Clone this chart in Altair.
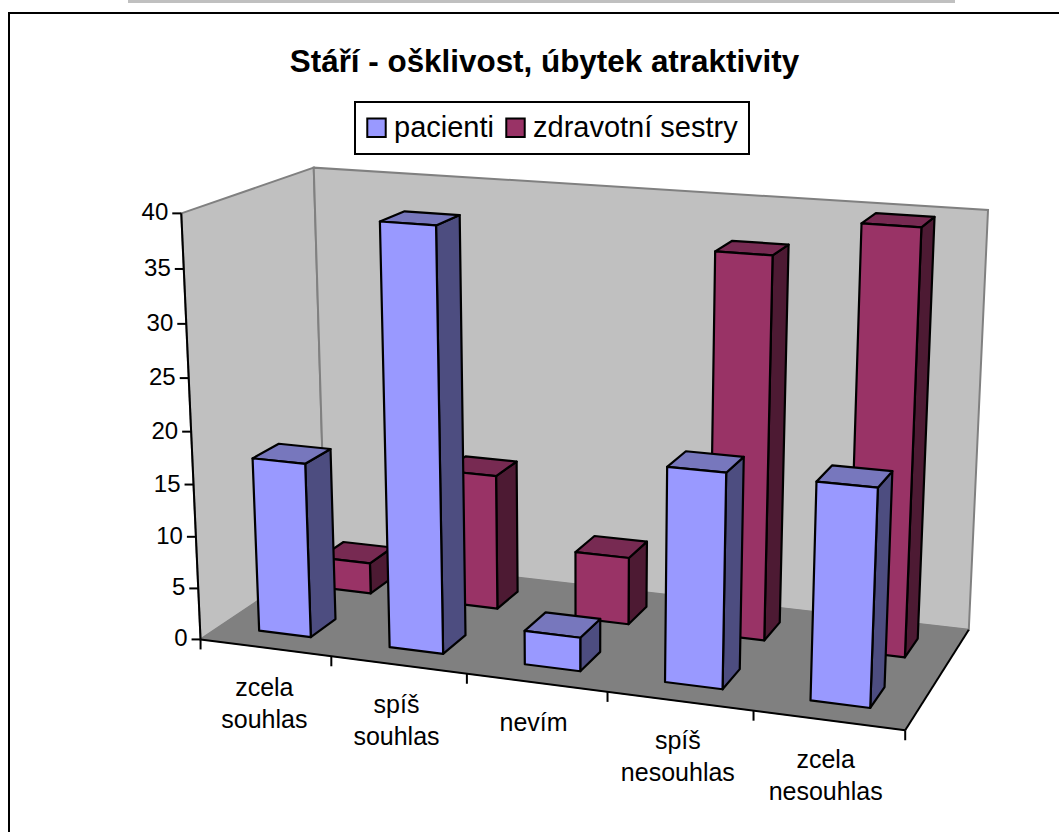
import numpy as np
import altair as alt

# Chart content
title_text = "Stáří - ošklivost, úbytek atraktivity"
categories = ["zcela\nsouhlas", "spíš\nsouhlas", "nevím", "spíš\nnesouhlas", "zcela\nnesouhlas"]
series = ["pacienti", "zdravotní sestry"]
pacienti = [16.8, 39.7, 3.2, 19.9, 19.9]
sestry = [3.1, 13.3, 6.6, 36.4, 39.8]
y_ticks = [0, 5, 10, 15, 20, 25, 30, 35, 40]

# Excel-style box: category position (0-5), depth (0-1), value (0-40)
box_anchors = [
    ((0, 0, 0), (201, 640)), ((5, 0, 0), (905, 730)),
    ((5, 1, 0), (969, 630)), ((0, 1, 0), (325, 555)),
    ((0, 0, 40), (181, 213)), ((0, 1, 40), (314, 168)),
    ((5, 1, 40), (988, 210)),
]


def fit_camera(anchors):
    rows, rhs = [], []
    for (a, b, c), (px, py) in anchors:
        rows.append([a, b, c, 1, 0, 0, 0, 0, -px * a, -px * b, -px * c])
        rows.append([0, 0, 0, 0, a, b, c, 1, -py * a, -py * b, -py * c])
        rhs += [px, py]
    sol = np.linalg.lstsq(np.array(rows, float), np.array(rhs, float), rcond=None)[0]
    return np.append(sol, 1.0).reshape(3, 4)


camera = fit_camera(box_anchors)


def project(cat, depth, value):
    p = camera @ np.array([cat, depth, value, 1.0])
    return [float(p[0] / p[2]), float(p[1] / p[2])]


def face(points, key):
    ring = [project(*pt) for pt in points]
    ring.append(ring[0])
    return {"type": "Feature", "properties": {"face": key},
            "geometry": {"type": "Polygon", "coordinates": [ring]}}


def bar_faces(cat, d0, d1, value, name):
    u0, u1 = cat + 0.3, cat + 0.7
    return [
        face([(u1, d0, 0), (u1, d1, 0), (u1, d1, value), (u1, d0, value)], name + " bok"),
        face([(u0, d0, value), (u1, d0, value), (u1, d1, value), (u0, d1, value)], name + " vrch"),
        face([(u0, d0, 0), (u1, d0, 0), (u1, d0, value), (u0, d0, value)], name),
    ]


# Painter's order: rear row first, then the front row
bar_features = []
for i, v in enumerate(sestry):
    bar_features += bar_faces(i, 0.65, 0.85, v, series[1])
for i, v in enumerate(pacienti):
    bar_features += bar_faces(i, 0.15, 0.35, v, series[0])

wall_features = [
    face([(0, 0, 0), (0, 1, 0), (0, 1, 40), (0, 0, 40)], "wall"),
    face([(0, 1, 0), (5, 1, 0), (5, 1, 40), (0, 1, 40)], "wall"),
]
floor_features = [face([(0, 0, 0), (5, 0, 0), (5, 1, 0), (0, 1, 0)], "floor")]

W, H = 1059, 832
px_x = alt.Scale(domain=[0, W], range=[0, W])
px_y = alt.Scale(domain=[0, H], range=[0, H])
identity = dict(type="identity", scale=1, translate=[0, 0])
FONT = "Liberation Sans"

backdrop = alt.Chart(alt.Data(values=[{"x": 0}])).mark_rect(color="#c0c0c0").encode(
    x=alt.value(128), x2=alt.value(955), y=alt.value(0), y2=alt.value(3)
)
frame = alt.Chart(alt.Data(values=[{"x": 0}])).mark_rect(
    fill="white", stroke="black", strokeWidth=2
).encode(x=alt.value(9), x2=alt.value(1080), y=alt.value(13), y2=alt.value(900))

walls = alt.Chart(alt.Data(values=wall_features)).mark_geoshape(
    fill="#c0c0c0", stroke="#808080", strokeWidth=2
).project(**identity)
floor = alt.Chart(alt.Data(values=floor_features)).mark_geoshape(
    fill="#808080", stroke="#808080", strokeWidth=1
).project(**identity)

bar_domain = [series[0], series[1], series[0] + " vrch", series[0] + " bok",
              series[1] + " vrch", series[1] + " bok"]
bar_range = ["#9999ff", "#993366", "#7777bd", "#4d4d80", "#772a52", "#4d1a33"]
bars = alt.Chart(alt.Data(values=bar_features)).mark_geoshape(
    stroke="black", strokeWidth=2.2, strokeJoin="round"
).encode(
    color=alt.Color(
        "properties.face:N",
        scale=alt.Scale(domain=bar_domain, range=bar_range),
        legend=alt.Legend(
            values=series, title=None, orient="none", legendX=355, legendY=102,
            direction="horizontal", columns=2, symbolType="square", symbolSize=340,
            symbolStrokeColor="black", symbolStrokeWidth=2, labelFont=FONT,
            labelFontSize=29, labelColor="black", labelOffset=3, columnPadding=8,
            padding=11, symbolOffset=-4, strokeColor="black", fillColor="white",
            labelLimit=400,
        ),
    )
).project(**identity)

# Axis lines and ticks, projected from box coordinates
axis_rows = []
for a, b in [((0, 0, 0), (0, 0, 40)), ((0, 0, 0), (5, 0, 0)), ((5, 0, 0), (5, 1, 0))]:
    p, q = project(*a), project(*b)
    axis_rows.append({"x": p[0], "y": p[1], "x2": q[0], "y2": q[1]})
for t in y_ticks:
    p = project(0, 0, t)
    axis_rows.append({"x": p[0] - 9, "y": p[1], "x2": p[0], "y2": p[1]})
for i in range(6):
    p = project(i, 0, 0)
    axis_rows.append({"x": p[0], "y": p[1], "x2": p[0], "y2": p[1] + 10})

axis_lines = alt.Chart(alt.Data(values=axis_rows)).mark_rule(color="black", strokeWidth=2).encode(
    x=alt.X("x:Q", scale=px_x, axis=None), x2="x2:Q",
    y=alt.Y("y:Q", scale=px_y, axis=None), y2="y2:Q",
)

y_labels = [{"x": project(0, 0, t)[0] - 13, "y": project(0, 0, t)[1], "t": str(t)} for t in y_ticks]
y_text = alt.Chart(alt.Data(values=y_labels)).mark_text(
    font=FONT, fontSize=24, align="right", baseline="middle", color="black"
).encode(
    x=alt.X("x:Q", scale=px_x, axis=None), y=alt.Y("y:Q", scale=px_y, axis=None), text="t:N"
)

# Category labels sit below the middle of each axis segment
label_shift = [-1, -2, -3, -2, -3]
cat_rows = []
for i, c in enumerate(categories):
    p = project(i + 0.5, 0, 0)
    cat_rows.append({"x": p[0] + label_shift[i], "y": p[1] + 28, "t": c})
cat_text = alt.Chart(alt.Data(values=cat_rows)).mark_text(
    font=FONT, fontSize=25, align="center", baseline="top", color="black",
    lineBreak="\n", lineHeight=32
).encode(
    x=alt.X("x:Q", scale=px_x, axis=None), y=alt.Y("y:Q", scale=px_y, axis=None), text="t:N"
)

chart = alt.layer(
    backdrop, frame, walls, floor, bars, axis_lines, y_text, cat_text
).resolve_scale(x="shared", y="shared").properties(
    width=W, height=H, padding=0, autosize=alt.AutoSizeParams(type="none"),
    title=alt.TitleParams(
        title_text, font=FONT, fontSize=31.4, fontWeight="bold", color="black",
        anchor="middle", frame="group", dx=15, dy=82,
    ),
).configure_view(stroke=None).configure_legend(strokeWidth=2)

chart.save("out.html", embed_options={"renderer": "svg", "actions": False})
